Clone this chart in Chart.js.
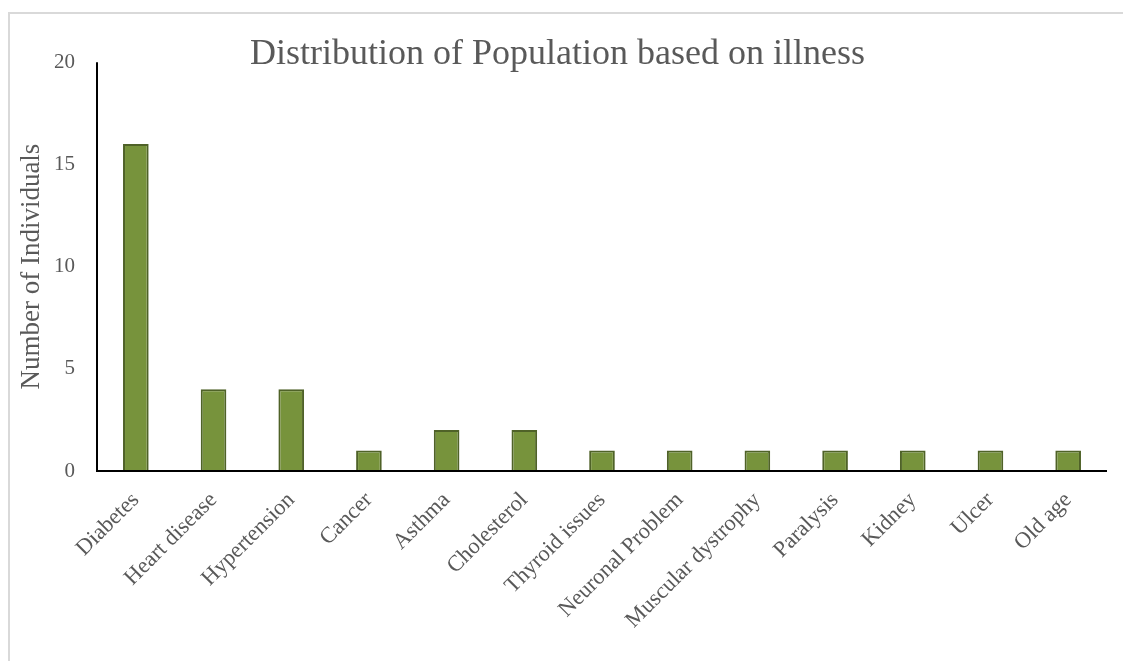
<!DOCTYPE html>
<html>
<head>
<meta charset="utf-8">
<script src="https://cdn.jsdelivr.net/npm/chart.js@4"></script>
<style>
  html, body { margin: 0; padding: 0; background: #fff; }
  #wrap { position: relative; width: 1123px; height: 661px; overflow: hidden; }
  #frame { position: absolute; left: 8px; top: 12px; width: 1200px; height: 700px;
           border-top: 2px solid #d9d9d9; border-left: 2px solid #d9d9d9; }
  canvas { position: absolute; left: 0; top: 0; }
</style>
</head>
<body>
<div id="wrap">
  <div id="frame"></div>
  <canvas id="chart" width="1123" height="661"></canvas>
</div>
<script>
// --- data ---
const illnesses = ['Diabetes', 'Heart disease', 'Hypertension', 'Cancer', 'Asthma', 'Cholesterol',
    'Thyroid issues', 'Neuronal Problem', 'Muscular dystrophy', 'Paralysis', 'Kidney', 'Ulcer', 'Old age'];
const individuals = [16, 4, 4, 1, 2, 2, 1, 1, 1, 1, 1, 1, 1];
const yTicks = [0, 5, 10, 15, 20];

const serif = '"Liberation Serif", "Times New Roman", serif';
const textColor = '#595959';

// x/y axis lines drawn in black like the original
const axisLines = {
    id: 'axisLines',
    afterDatasetsDraw(chart) {
        const { ctx, chartArea: a } = chart;
        ctx.save();
        ctx.strokeStyle = '#000';
        ctx.lineWidth = 2;
        ctx.beginPath();
        ctx.moveTo(a.left, a.top);
        ctx.lineTo(a.left, a.bottom);
        ctx.lineTo(a.right, a.bottom);
        ctx.stroke();
        ctx.restore();
    }
};

new Chart(document.getElementById('chart'), {
    type: 'bar',
    data: {
        labels: illnesses,
        datasets: [{
            label: 'Number of Individuals',
            data: individuals,
            backgroundColor: '#77933c',
            borderColor: '#4f6228',
            borderWidth: 2,
            barPercentage: 0.33,
            categoryPercentage: 1.0
        }]
    },
    options: {
        responsive: false,
        animation: false,
        layout: { padding: { top: 12, left: 8, right: 16, bottom: 0 } },
        plugins: {
            legend: { display: false },
            tooltip: { enabled: false },
            title: {
                display: true,
                text: 'Distribution of Population based on illness',
                color: textColor,
                font: { family: serif, size: 36, weight: 'normal' },
                padding: { top: 21, bottom: -14 }
            }
        },
        scales: {
            x: {
                grid: { display: false, drawTicks: false },
                border: { display: false },
                ticks: {
                    color: textColor,
                    font: { family: serif, size: 22.5 },
                    minRotation: 45,
                    maxRotation: 45,
                    padding: 16,
                    autoSkip: false
                },
                afterFit: s => { s.height = 190; }
            },
            y: {
                min: 0,
                max: 20,
                afterBuildTicks: s => { s.ticks = yTicks.map(v => ({ value: v })); },
                grid: { display: false, drawTicks: false },
                border: { display: false },
                ticks: {
                    color: textColor,
                    font: { family: serif, size: 21 },
                    padding: 22
                },
                title: {
                    display: true,
                    text: 'Number of Individuals',
                    color: textColor,
                    font: { family: serif, size: 27 },
                    padding: { top: 8, bottom: 0 }
                },
                afterFit: s => { s.width = 89; }
            }
        }
    },
    plugins: [axisLines]
});
</script>
</body>
</html>
